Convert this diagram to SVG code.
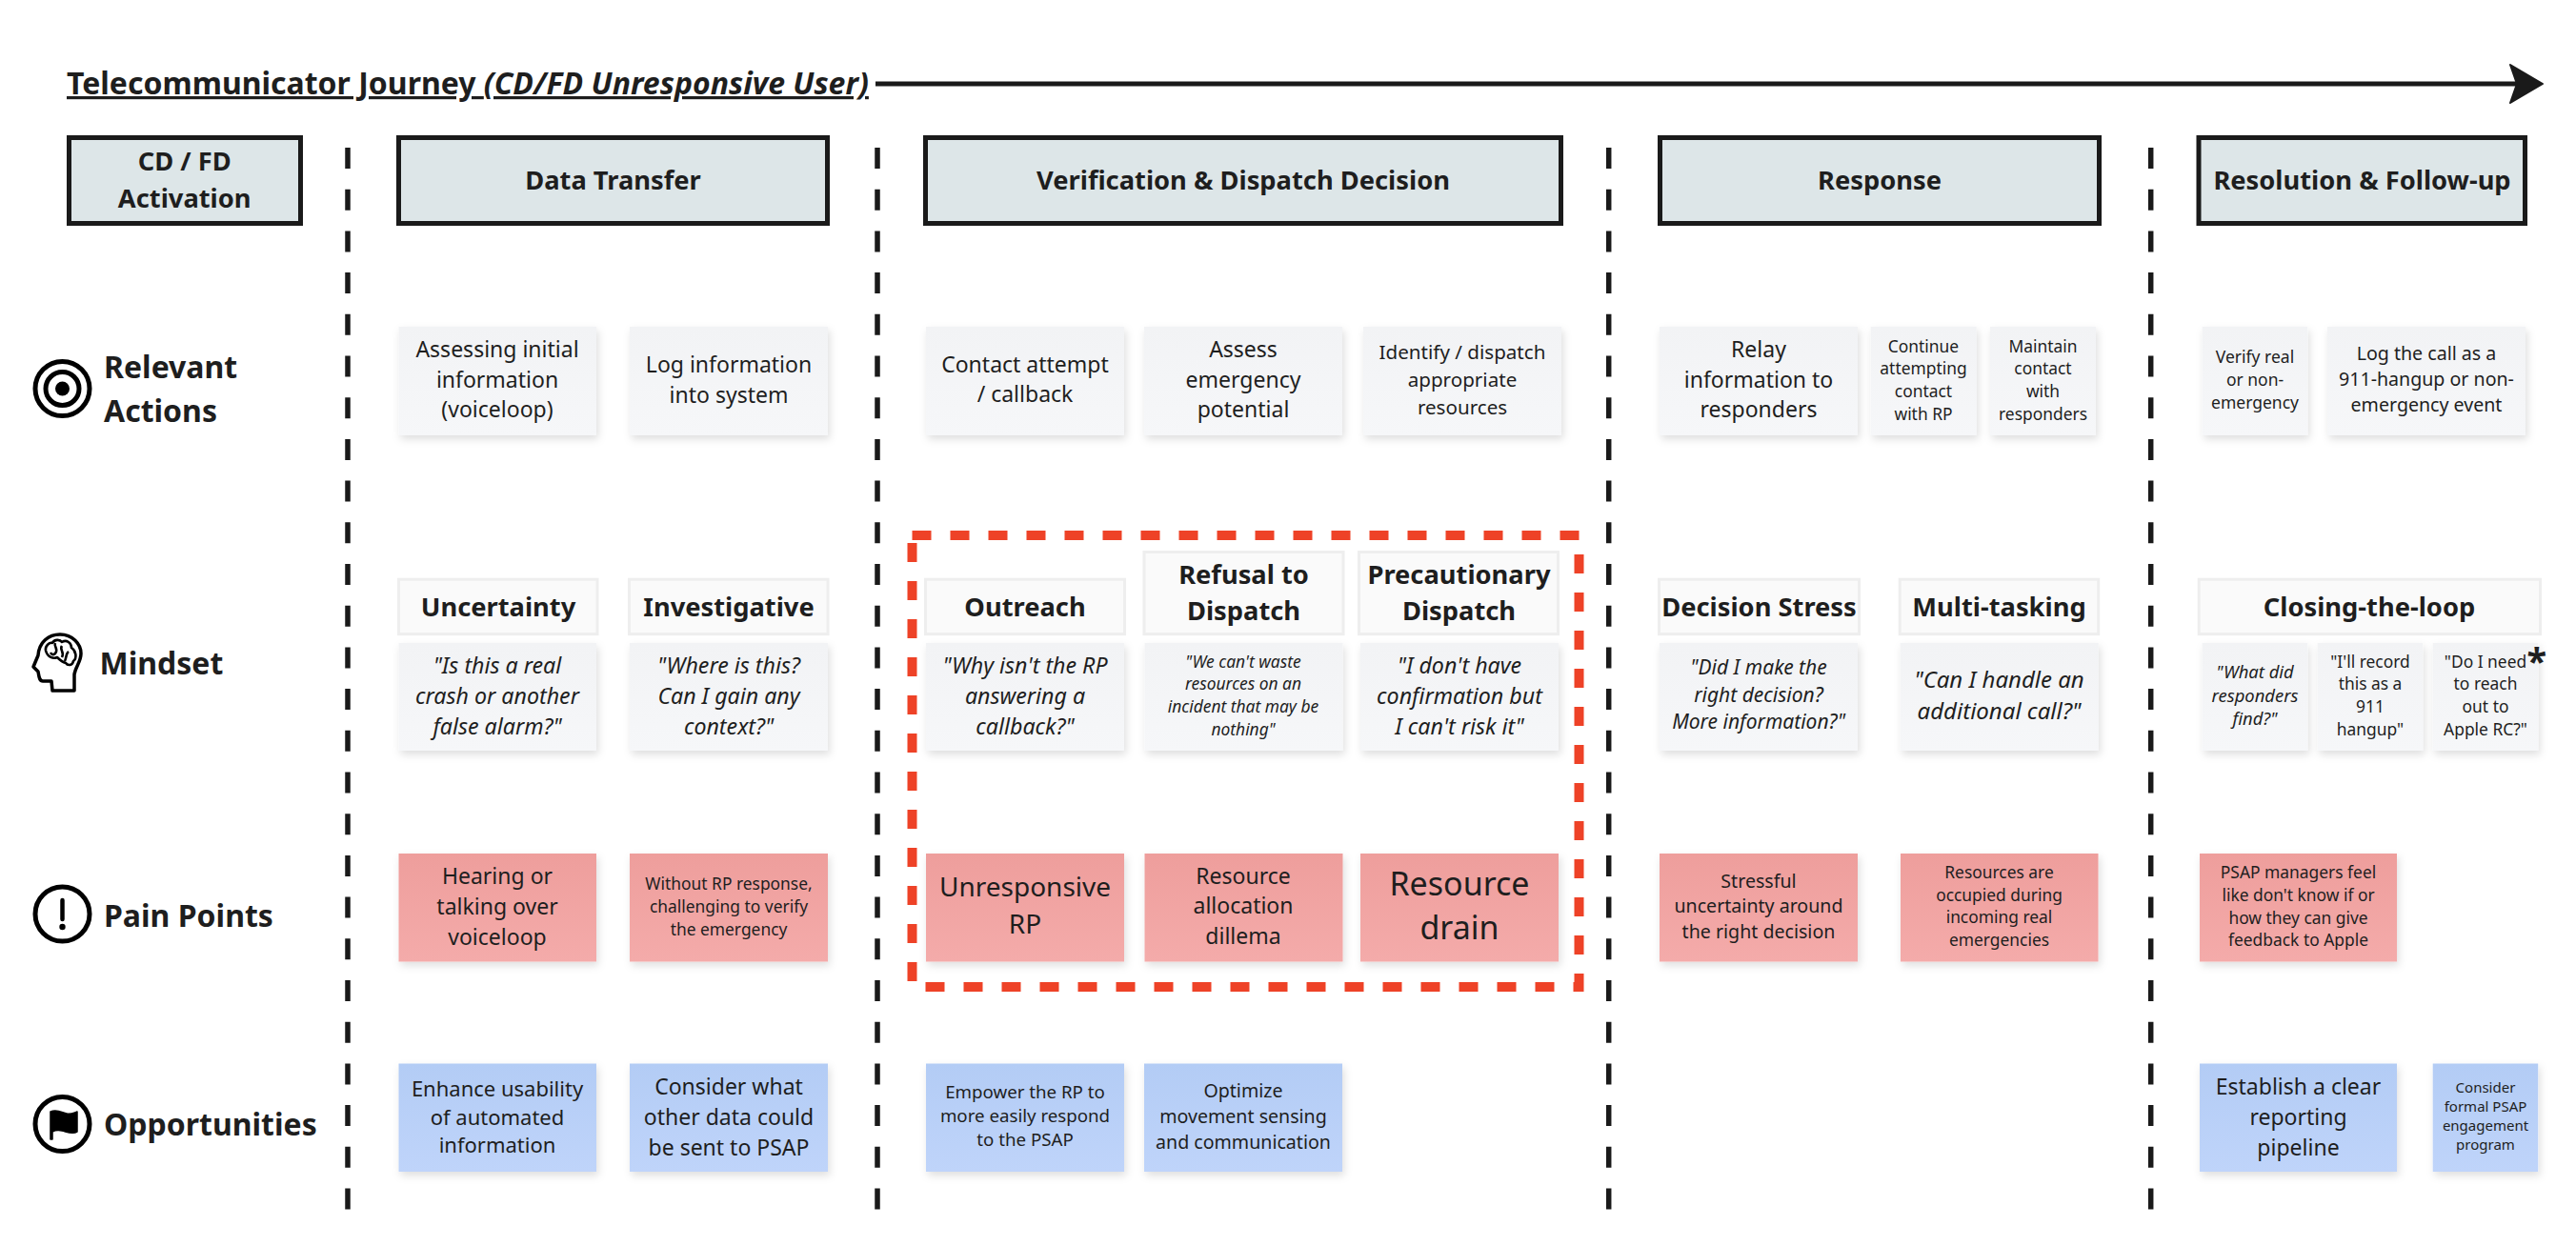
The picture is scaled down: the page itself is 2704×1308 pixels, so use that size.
<svg xmlns="http://www.w3.org/2000/svg" width="2704" height="1308" viewBox="0 0 2704 1308">
<style>
text{font-family:"Noto Sans","Liberation Sans",sans-serif;fill:#1e1e1e;text-anchor:middle}
.b{font-weight:700}
.i{font-style:italic}
.l{font-weight:700;text-anchor:start;font-size:32px}
.h{font-weight:700;font-size:27.3px}
.head{fill:#dde6e8;stroke:#1a1a1a;stroke-width:5}
.lab{fill:#fafafa;stroke:#eeeeee;stroke-width:3}
.g{fill:url(#gg);filter:url(#sh)}
.r{fill:url(#gr);filter:url(#sh)}
.u{fill:url(#gb);filter:url(#sh)}
.div{stroke:#1a1a1a;stroke-width:5.5;stroke-dasharray:22 21.7;fill:none}
.ic{fill:none;stroke:#000;stroke-width:5}
</style>
<defs>
<linearGradient id="gg" x1="0" y1="0" x2="0" y2="1"><stop offset="0" stop-color="#f2f3f5"/><stop offset="1" stop-color="#f6f7f9"/></linearGradient>
<linearGradient id="gr" x1="0" y1="0" x2="0" y2="1"><stop offset="0" stop-color="#ee9e9c"/><stop offset="1" stop-color="#f4abaa"/></linearGradient>
<linearGradient id="gb" x1="0" y1="0" x2="0" y2="1"><stop offset="0" stop-color="#b3ccf5"/><stop offset="1" stop-color="#bfd4fa"/></linearGradient>
<filter id="sh" x="-10%" y="-10%" width="125%" height="135%"><feDropShadow dx="2" dy="4" stdDeviation="4" flood-color="#000" flood-opacity="0.13"/></filter>
<marker id="ah" markerUnits="userSpaceOnUse" markerWidth="44" markerHeight="50" refX="13" refY="25" orient="auto"><path d="M3 5 L37 25 L3 45 L10 25 Z" fill="#1a1a1a" stroke="#1a1a1a" stroke-width="2" stroke-linejoin="round"/></marker>
</defs>
<rect width="2704" height="1308" fill="#fff"/>

<g id="connectors">
<path d="M919 88H2645" fill="none" stroke="#1a1a1a" stroke-width="5" marker-end="url(#ah)"/>
<path class="div" d="M365 155V1272"/>
<path class="div" d="M921 155V1272"/>
<path class="div" d="M1688.7 155V1272"/>
<path class="div" d="M2257.7 155V1272"/>
</g>

<g id="title"><text class="b" x="70" y="99" font-size="32" style="text-anchor:start;text-decoration:underline">Telecommunicator Journey <tspan class="i">(CD/FD Unresponsive User)</tspan></text></g>

<g id="highlight"><rect x="957.5" y="562" width="700" height="474" fill="none" stroke="#ee4227" stroke-width="10" stroke-dasharray="20 20"/></g>

<g id="hdr-activation"><rect class="head" x="72.5" y="144.5" width="243" height="90"/><text class="h" x="193.7" y="179">CD / FD</text><text class="h" x="193.7" y="218">Activation</text></g>
<g id="hdr-data"><rect class="head" x="418.5" y="144.5" width="450" height="90"/><text class="h" x="643.5" y="199">Data Transfer</text></g>
<g id="hdr-verif"><rect class="head" x="971.5" y="144.5" width="667" height="90"/><text class="h" x="1305" y="199">Verification &amp; Dispatch Decision</text></g>
<g id="hdr-response"><rect class="head" x="1742.5" y="144.5" width="461" height="90"/><text class="h" x="1973" y="199">Response</text></g>
<g id="hdr-resolution"><rect class="head" x="2308" y="144.5" width="342.5" height="90"/><text class="h" x="2479.5" y="199">Resolution &amp; Follow-up</text></g>

<g id="row-actions">
<circle class="ic" cx="65.5" cy="408" r="28.5"/><circle class="ic" cx="65.5" cy="408" r="17.5"/><circle cx="65.5" cy="408" r="7.5"/>
<text class="l" x="109" y="397">Relevant</text><text class="l" x="109" y="443">Actions</text>
</g>
<g id="row-mindset">
<path d="M40 688C41 674 51 666 63 666C76 666 85 676 85 686C85 695 79 700 78 708V725H55L54 715H45C41 715 41 710 40 705L35 700Z" fill="none" stroke="#000" stroke-width="3.5" stroke-linejoin="round"/>
<path d="M48 683C47 678 52 674 55 675C57 671 63 671 65 674C70 671 75 675 75 680C80 683 81 691 77 694C76 699 71 699 69 696C65 695 62 692 60 690C56 692 50 690 48 683ZM58 675C56 679 62 681 58 686C56 688 54 687 53 685M65 678C62 682 68 684 65 690M72 684C69 686 70 690 68 694" fill="none" stroke="#000" stroke-width="2.6" stroke-linejoin="round"/>
<text class="l" x="104.5" y="708">Mindset</text>
</g>
<g id="row-pain">
<circle class="ic" cx="65.5" cy="959.5" r="28.5"/><path d="M65.5 945V965" stroke="#000" stroke-width="4.5" stroke-linecap="round"/><circle cx="65.5" cy="973" r="3.2"/>
<text class="l" x="109" y="972.5">Pain Points</text>
</g>
<g id="row-opp">
<circle class="ic" cx="65.5" cy="1180" r="28.5"/><path d="M53 1167C60 1164 65 1168 70 1169C74 1170 78 1168 81 1167V1188C76 1191 70 1188 65 1187C60 1186 57 1187 55 1188V1196H53Z" fill="#000" stroke="#000" stroke-width="1.5" stroke-linejoin="round"/>
<text class="l" x="109" y="1192">Opportunities</text>
</g>

<g id="a1"><rect class="g" x="418.5" y="343" width="207.5" height="114"/><text x="522" font-size="23"><tspan x="522" y="375">Assessing initial</tspan><tspan x="522" y="406.5">information</tspan><tspan x="522" y="438">(voiceloop)</tspan></text></g>
<g id="a2"><rect class="g" x="661" y="343" width="208" height="114"/><text font-size="23"><tspan x="765" y="391">Log information</tspan><tspan x="765" y="423">into system</tspan></text></g>
<g id="a3"><rect class="g" x="972" y="343" width="208" height="114"/><text font-size="23"><tspan x="1076" y="391">Contact attempt</tspan><tspan x="1076" y="422">/ callback</tspan></text></g>
<g id="a4"><rect class="g" x="1201" y="343" width="208" height="114"/><text font-size="23"><tspan x="1305" y="375">Assess</tspan><tspan x="1305" y="406.5">emergency</tspan><tspan x="1305" y="438">potential</tspan></text></g>
<g id="a5"><rect class="g" x="1431" y="343" width="208" height="114"/><text font-size="20.6"><tspan x="1535" y="377">Identify / dispatch</tspan><tspan x="1535" y="406">appropriate</tspan><tspan x="1535" y="434.5">resources</tspan></text></g>
<g id="a6"><rect class="g" x="1742" y="343" width="208" height="114"/><text font-size="23"><tspan x="1846" y="375">Relay</tspan><tspan x="1846" y="406.5">information to</tspan><tspan x="1846" y="438">responders</tspan></text></g>
<g id="a7"><rect class="g" x="1963.7" y="343" width="111" height="114"/><text font-size="17.4"><tspan x="2019" y="369.5">Continue</tspan><tspan x="2019" y="393.3">attempting</tspan><tspan x="2019" y="417">contact</tspan><tspan x="2019" y="440.7">with RP</tspan></text></g>
<g id="a8"><rect class="g" x="2089" y="343" width="111" height="114"/><text font-size="17.4"><tspan x="2144.5" y="369.5">Maintain</tspan><tspan x="2144.5" y="393.3">contact</tspan><tspan x="2144.5" y="417">with</tspan><tspan x="2144.5" y="440.7">responders</tspan></text></g>
<g id="a9"><rect class="g" x="2311.7" y="343" width="110.5" height="114"/><text font-size="17.5"><tspan x="2367" y="381">Verify real</tspan><tspan x="2367" y="405">or non-</tspan><tspan x="2367" y="428.5">emergency</tspan></text></g>
<g id="a10"><rect class="g" x="2443" y="343" width="208" height="114"/><text font-size="19.6"><tspan x="2547" y="378">Log the call as a</tspan><tspan x="2547" y="405">911-hangup or non-</tspan><tspan x="2547" y="432">emergency event</tspan></text></g>

<g id="m1"><rect class="lab" x="418.5" y="608.2" width="208.5" height="57.5"/><text class="h" x="523" y="646.5">Uncertainty</text></g>
<g id="m2"><rect class="lab" x="660.5" y="608.2" width="208.5" height="57.5"/><text class="h" x="765" y="646.5">Investigative</text></g>
<g id="m3"><rect class="lab" x="971.5" y="608.2" width="209" height="57.5"/><text class="h" x="1076" y="646.5">Outreach</text></g>
<g id="m4"><rect class="lab" x="1201" y="579.5" width="209" height="86.2"/><text class="h" x="1305.5" y="612.7">Refusal to</text><text class="h" x="1305.5" y="651">Dispatch</text></g>
<g id="m5"><rect class="lab" x="1426.5" y="579.5" width="209" height="86.2"/><text class="h" x="1531.5" y="612.7">Precautionary</text><text class="h" x="1531.5" y="651">Dispatch</text></g>
<g id="m6"><rect class="lab" x="1741.5" y="608.2" width="210" height="57.5"/><text class="h" x="1846.5" y="646.5">Decision Stress</text></g>
<g id="m7"><rect class="lab" x="1994.2" y="608.2" width="208.5" height="57.5"/><text class="h" x="2098.5" y="646.5">Multi-tasking</text></g>
<g id="m8"><rect class="lab" x="2308.2" y="608.2" width="358.3" height="57.5"/><text class="h" x="2487" y="646.5">Closing-the-loop</text></g>

<g id="q1"><rect class="g" x="418.5" y="675" width="207.5" height="113"/><text class="i" font-size="23.2"><tspan x="522" y="707">"Is this a real</tspan><tspan x="522" y="739">crash or another</tspan><tspan x="522" y="771">false alarm?"</tspan></text></g>
<g id="q2"><rect class="g" x="661" y="675" width="208" height="113"/><text class="i" font-size="23.2"><tspan x="765" y="707">"Where is this?</tspan><tspan x="765" y="739">Can I gain any</tspan><tspan x="765" y="771">context?"</tspan></text></g>
<g id="q3"><rect class="g" x="972" y="675" width="208" height="113"/><text class="i" font-size="23.2"><tspan x="1076" y="707">"Why isn't the RP</tspan><tspan x="1076" y="739">answering a</tspan><tspan x="1076" y="770.5">callback?"</tspan></text></g>
<g id="q4"><rect class="g" x="1201.5" y="675" width="208" height="113"/><text class="i" font-size="17.4"><tspan x="1305" y="700.6">"We can't waste</tspan><tspan x="1305" y="724">resources on an</tspan><tspan x="1305" y="748">incident that may be</tspan><tspan x="1305" y="771.6">nothing"</tspan></text></g>
<g id="q5"><rect class="g" x="1428" y="675" width="208" height="113"/><text class="i" font-size="23.2"><tspan x="1532" y="707">"I don't have</tspan><tspan x="1532" y="739">confirmation but</tspan><tspan x="1532" y="770.5">I can't risk it"</tspan></text></g>
<g id="q6"><rect class="g" x="1742" y="675" width="208" height="113"/><text class="i" font-size="21"><tspan x="1846" y="708">"Did I make the</tspan><tspan x="1846" y="736.7">right decision?</tspan><tspan x="1846" y="765">More information?"</tspan></text></g>
<g id="q7"><rect class="g" x="1994.7" y="675" width="208" height="113"/><text class="i" font-size="24"><tspan x="2098.5" y="721.7">"Can I handle an</tspan><tspan x="2098.5" y="755">additional call?"</tspan></text></g>
<g id="q8"><rect class="g" x="2311.7" y="675" width="110.5" height="113"/><text class="i" font-size="18.4"><tspan x="2367" y="711.7">"What did</tspan><tspan x="2367" y="736.5">responders</tspan><tspan x="2367" y="761">find?"</tspan></text></g>
<g id="q9"><rect class="g" x="2432.7" y="675" width="110.5" height="113"/><text font-size="17.4"><tspan x="2488" y="700.5">"I'll record</tspan><tspan x="2488" y="724">this as a</tspan><tspan x="2488" y="748">911</tspan><tspan x="2488" y="772">hangup"</tspan></text></g>
<g id="q10"><rect class="g" x="2553.7" y="675" width="110.5" height="113"/><text font-size="17.4"><tspan x="2609" y="700.5">"Do I need</tspan><tspan x="2609" y="724">to reach</tspan><tspan x="2609" y="748">out to</tspan><tspan x="2609" y="772">Apple RC?"</tspan></text><text class="b" x="2662.7" y="708" font-size="38">*</text></g>

<g id="p1"><rect class="r" x="418.5" y="896" width="207.5" height="113.5"/><text font-size="23"><tspan x="522" y="928">Hearing or</tspan><tspan x="522" y="959.5">talking over</tspan><tspan x="522" y="991.5">voiceloop</tspan></text></g>
<g id="p2"><rect class="r" x="661" y="896" width="208" height="113.5"/><text font-size="17.4"><tspan x="765" y="934">Without RP response,</tspan><tspan x="765" y="957.7">challenging to verify</tspan><tspan x="765" y="981.8">the emergency</tspan></text></g>
<g id="p3"><rect class="r" x="972" y="896" width="208" height="113.5"/><text font-size="28"><tspan x="1076" y="941">Unresponsive</tspan><tspan x="1076" y="980">RP</tspan></text></g>
<g id="p4"><rect class="r" x="1201.5" y="896" width="208" height="113.5"/><text font-size="23"><tspan x="1305" y="927.8">Resource</tspan><tspan x="1305" y="959">allocation</tspan><tspan x="1305" y="991">dillema</tspan></text></g>
<g id="p5"><rect class="r" x="1428" y="896" width="208" height="113.5"/><text font-size="34"><tspan x="1532" y="939.6">Resource</tspan><tspan x="1532" y="986">drain</tspan></text></g>
<g id="p6"><rect class="r" x="1742" y="896" width="208" height="113.5"/><text font-size="19.6"><tspan x="1846" y="931.7">Stressful</tspan><tspan x="1846" y="958.3">uncertainty around</tspan><tspan x="1846" y="985">the right decision</tspan></text></g>
<g id="p7"><rect class="r" x="1995" y="896" width="207.5" height="113.5"/><text font-size="17.4"><tspan x="2098.5" y="921.7">Resources are</tspan><tspan x="2098.5" y="945.7">occupied during</tspan><tspan x="2098.5" y="969.3">incoming real</tspan><tspan x="2098.5" y="993.3">emergencies</tspan></text></g>
<g id="p8"><rect class="r" x="2309" y="896" width="207" height="113.5"/><text font-size="17.4"><tspan x="2412.5" y="922.4">PSAP managers feel</tspan><tspan x="2412.5" y="946">like don't know if or</tspan><tspan x="2412.5" y="969.7">how they can give</tspan><tspan x="2412.5" y="993.4">feedback to Apple</tspan></text></g>

<g id="o1"><rect class="u" x="418.5" y="1116.5" width="207.5" height="113.5"/><text font-size="22"><tspan x="522" y="1151.4">Enhance usability</tspan><tspan x="522" y="1181">of automated</tspan><tspan x="522" y="1210">information</tspan></text></g>
<g id="o2"><rect class="u" x="661" y="1116.5" width="208" height="113.5"/><text font-size="23"><tspan x="765" y="1149">Consider what</tspan><tspan x="765" y="1181">other data could</tspan><tspan x="765" y="1212.6">be sent to PSAP</tspan></text></g>
<g id="o3"><rect class="u" x="972" y="1116.5" width="208" height="113.5"/><text font-size="18.7"><tspan x="1076" y="1153.3">Empower the RP to</tspan><tspan x="1076" y="1178.3">more easily respond</tspan><tspan x="1076" y="1203.3">to the PSAP</tspan></text></g>
<g id="o4"><rect class="u" x="1201" y="1116.5" width="208" height="113.5"/><text font-size="19.6"><tspan x="1305" y="1151.7">Optimize</tspan><tspan x="1305" y="1179">movement sensing</tspan><tspan x="1305" y="1205.7">and communication</tspan></text></g>
<g id="o5"><rect class="u" x="2309" y="1116.5" width="207" height="113.5"/><text font-size="23"><tspan x="2412.5" y="1149">Establish a clear</tspan><tspan x="2412.5" y="1181">reporting</tspan><tspan x="2412.5" y="1212.6">pipeline</tspan></text></g>
<g id="o6"><rect class="u" x="2553.7" y="1116.5" width="110.5" height="113.5"/><text font-size="15"><tspan x="2609" y="1147">Consider</tspan><tspan x="2609" y="1167">formal PSAP</tspan><tspan x="2609" y="1187">engagement</tspan><tspan x="2609" y="1207">program</tspan></text></g>
</svg>
